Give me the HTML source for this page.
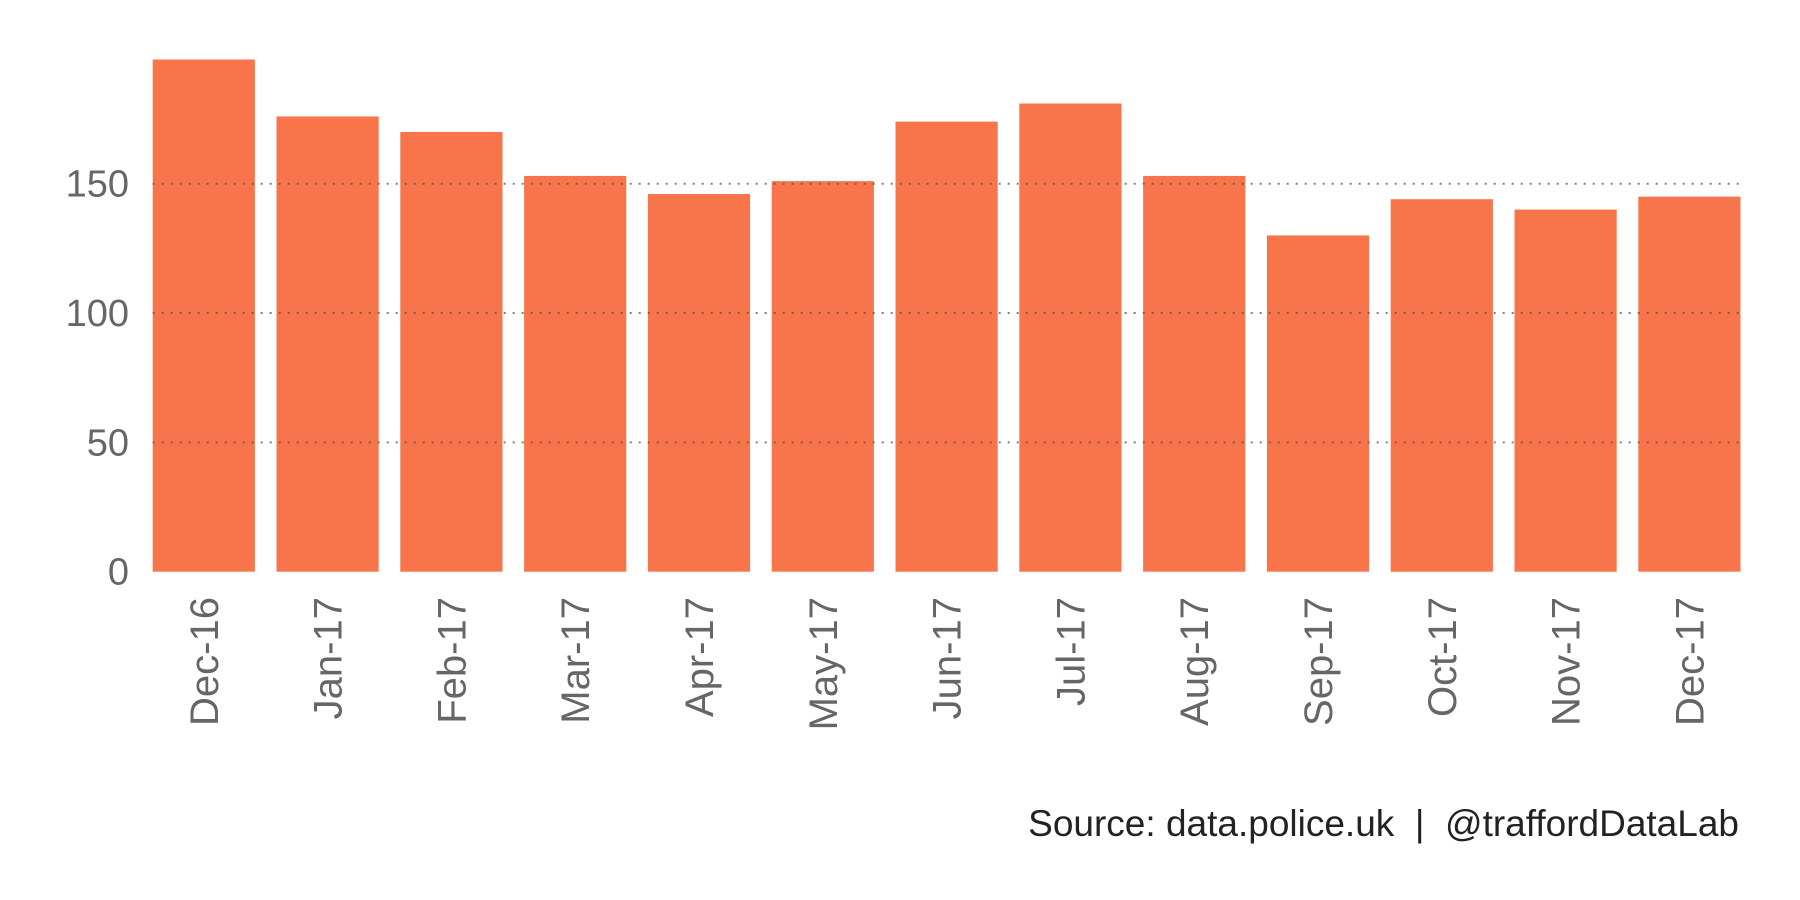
<!DOCTYPE html>
<html><head><meta charset="utf-8"><style>
body{margin:0;background:#fff;}
svg{display:block;font-family:"Liberation Sans",sans-serif;}
</style></head><body>
<svg width="1800" height="900" viewBox="0 0 1800 900">
<g id="bars"></g>
<g id="grid"></g>
<g id="yaxis"></g>
<g id="xaxis"></g>
<text x="1739" y="836" text-anchor="end" font-size="37" fill="#222" style="white-space:pre">Source: data.police.uk  |  @traffordDataLab</text>
</svg>
<script>
const categories = ["Dec-16","Jan-17","Feb-17","Mar-17","Apr-17","May-17","Jun-17","Jul-17","Aug-17","Sep-17","Oct-17","Nov-17","Dec-17"];
const values = [198,176,170,153,146,151,174,181,153,130,144,140,145];
const yTicks = [0,50,100,150];
const yTickLabels = ["0","50","100","150"];

const NS="http://www.w3.org/2000/svg";
const y0=571.7, pxPerUnit=(571.7-183.7)/150;
const x0=152.7, step=123.8, bw=102.2, plotRight=1741.5;
function yScale(v){return y0-v*pxPerUnit;}
function xScale(i){return x0+i*step;}
function mk(tag,attrs,parent){const e=document.createElementNS(NS,tag);for(const k in attrs)e.setAttribute(k,attrs[k]);parent.appendChild(e);return e;}

const bars=document.getElementById('bars');
values.forEach((v,i)=>{
  const r=mk('rect',{x:xScale(i),y:yScale(v),width:bw,height:y0-yScale(v),fill:'#f8744a'},bars);
  
  
});
const grid=document.getElementById('grid');
const yaxis=document.getElementById('yaxis');
yTicks.forEach((t,i)=>{
  if(t>0){
    const l=mk('line',{x1:x0,x2:plotRight,y1:yScale(t),y2:yScale(t),stroke:'#555','stroke-width':2,'stroke-dasharray':'2 7','stroke-opacity':0.75},grid);
    
    
  }
  const tx=mk('text',{x:129,y:yScale(t)+13,'text-anchor':'end','font-size':38,fill:'#666'},yaxis);
  tx.textContent=yTickLabels[i];
  
  
});
const xaxis=document.getElementById('xaxis');
categories.forEach((c,i)=>{
  const cx=xScale(i)+bw/2;
  const tx=mk('text',{x:0,y:0,'text-anchor':'end','font-size':40,fill:'#666',transform:`translate(${cx+14},597) rotate(-90)`},xaxis);
  tx.textContent=c;
  
  
});
</script>
</body></html>
